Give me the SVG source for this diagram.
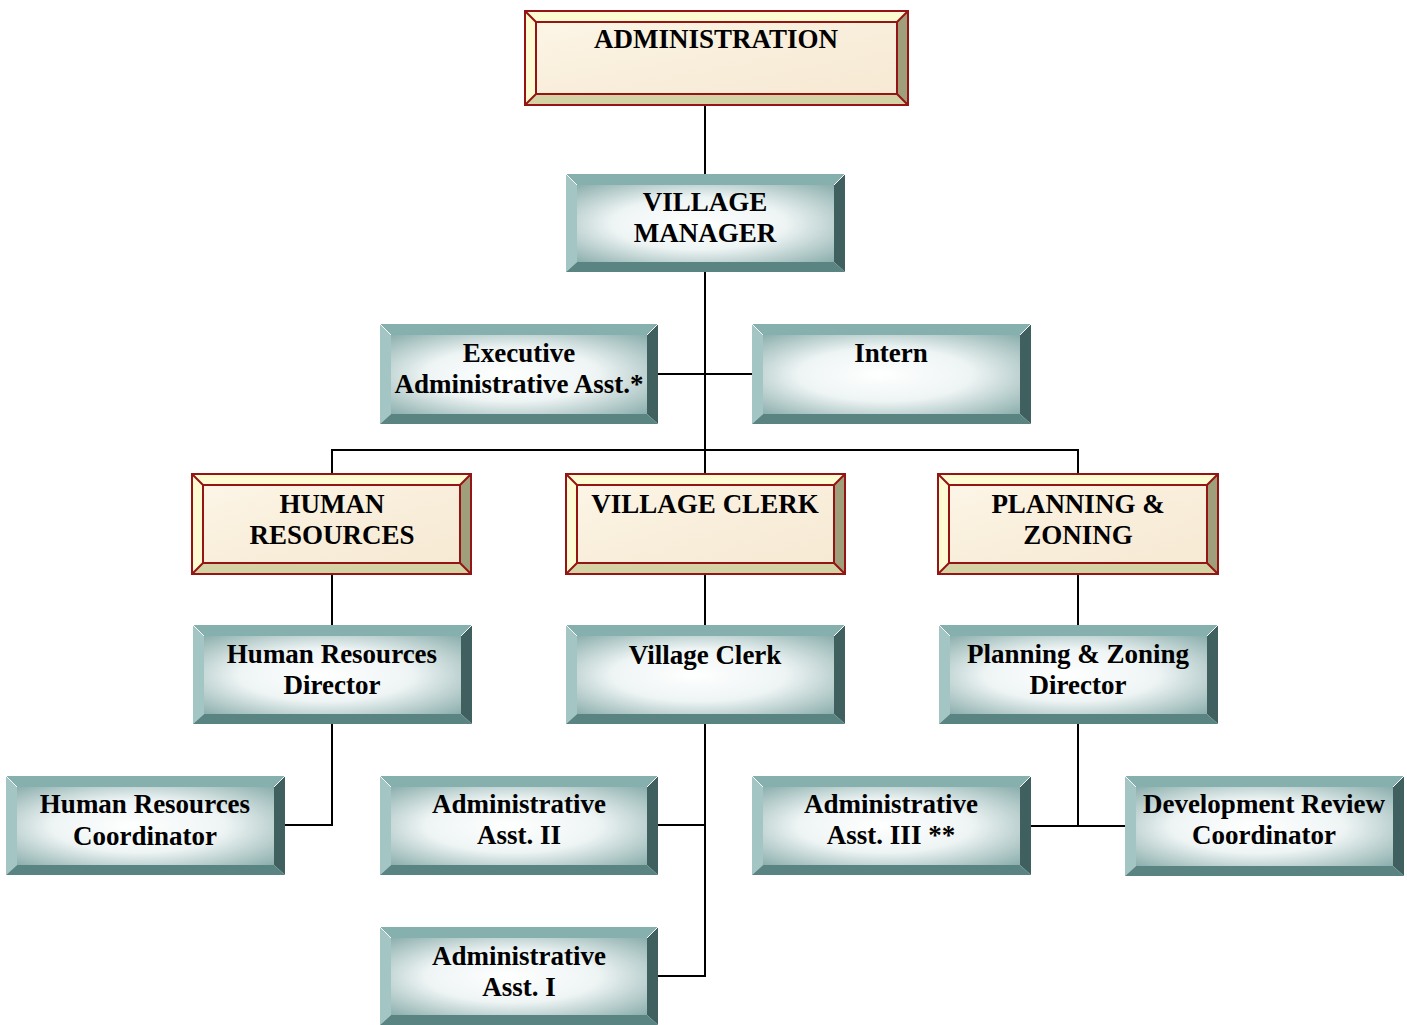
<svg xmlns="http://www.w3.org/2000/svg" width="1407" height="1025" viewBox="0 0 1407 1025">
<defs>
<radialGradient id="tg" cx="0.5" cy="0.5" r="0.75" fx="0.45" fy="0.5">
<stop offset="0" stop-color="#ffffff"/>
<stop offset="0.45" stop-color="#eef4f4"/>
<stop offset="1" stop-color="#7fa6a4"/>
</radialGradient>
<linearGradient id="pg" x1="0" y1="0" x2="1" y2="1">
<stop offset="0" stop-color="#fcf5e6"/>
<stop offset="0.5" stop-color="#f9eedb"/>
<stop offset="1" stop-color="#f6ead4"/>
</linearGradient>
</defs>
<style>
.tt{fill:#86b0ae}.tl{fill:#a3c6c4}.tr{fill:#3f605e}.tb{fill:#5a8482}.ti{fill:url(#tg)}
.rt{fill:#fdfbd2}.rl{fill:#fdfbd2}.rr{fill:#a09f7c}.rb{fill:#d3d3a6}.ri{fill:url(#pg)}
.rs{fill:none;stroke:#951515;stroke-width:2}
.ws{stroke:#ffffff;stroke-width:1;fill:none}
text{font-family:"Liberation Serif","Times New Roman",serif;font-weight:bold;font-size:27px;text-anchor:middle;fill:#000}
.c line{stroke:#000;stroke-width:2}
</style>
<g class="c" id="connectors">
<line x1="705" y1="106" x2="705" y2="174"/>
<line x1="705" y1="272" x2="705" y2="473"/>
<line x1="658" y1="374" x2="752" y2="374"/>
<line x1="331" y1="450" x2="1079" y2="450"/>
<line x1="332" y1="449" x2="332" y2="473"/>
<line x1="1078" y1="449" x2="1078" y2="473"/>
<line x1="332" y1="575" x2="332" y2="625"/>
<line x1="705" y1="575" x2="705" y2="625"/>
<line x1="1078" y1="575" x2="1078" y2="625"/>
<line x1="332" y1="724" x2="332" y2="826"/>
<line x1="285" y1="825" x2="333" y2="825"/>
<line x1="705" y1="724" x2="705" y2="977"/>
<line x1="658" y1="825" x2="705" y2="825"/>
<line x1="658" y1="976" x2="706" y2="976"/>
<line x1="1078" y1="724" x2="1078" y2="826"/>
<line x1="1031" y1="826" x2="1125" y2="826"/>
</g>
<g id="administration">
<polygon class="rt" points="524,10 909,10 897,22 536,22"/>
<polygon class="rl" points="524,10 536,22 536,94 524,106"/>
<polygon class="rr" points="909,10 909,106 897,94 897,22"/>
<polygon class="rb" points="524,106 536,94 897,94 909,106"/>
<rect class="ri" x="536" y="22" width="361" height="72"/>
<rect class="rs" x="525" y="11" width="383" height="94"/>
<rect class="rs" x="536" y="22" width="361" height="72"/>
<path class="rs" d="M525,11 L536,22 M908,11 L897,22 M525,105 L536,94 M908,105 L897,94"/>
<text x="716" y="48">ADMINISTRATION</text>
</g>
<g id="village-manager">
<polygon class="tt" points="566,174 845,174 834,185 577,185"/>
<polygon class="tl" points="566,174 577,185 577,262 566,272"/>
<polygon class="tr" points="845,174 845,272 834,262 834,185"/>
<polygon class="tb" points="566,272 577,262 834,262 845,272"/>
<rect class="ti" x="577" y="185" width="257" height="77"/>
<path class="ws" d="M566,174 L577,185 M845,174 L834,185"/>
<text x="705" y="211">VILLAGE</text>
<text x="705" y="242">MANAGER</text>
</g>
<g id="exec-admin-asst">
<polygon class="tt" points="380,324 658,324 647,335 391,335"/>
<polygon class="tl" points="380,324 391,335 391,414 380,424"/>
<polygon class="tr" points="658,324 658,424 647,414 647,335"/>
<polygon class="tb" points="380,424 391,414 647,414 658,424"/>
<rect class="ti" x="391" y="335" width="256" height="79"/>
<path class="ws" d="M380,324 L391,335 M658,324 L647,335"/>
<text x="519" y="362">Executive</text>
<text x="519" y="393">Administrative Asst.*</text>
</g>
<g id="intern">
<polygon class="tt" points="752,324 1031,324 1020,335 763,335"/>
<polygon class="tl" points="752,324 763,335 763,414 752,424"/>
<polygon class="tr" points="1031,324 1031,424 1020,414 1020,335"/>
<polygon class="tb" points="752,424 763,414 1020,414 1031,424"/>
<rect class="ti" x="763" y="335" width="257" height="79"/>
<path class="ws" d="M752,324 L763,335 M1031,324 L1020,335"/>
<text x="891" y="362">Intern</text>
</g>
<g id="human-resources">
<polygon class="rt" points="191,473 472,473 460,485 203,485"/>
<polygon class="rl" points="191,473 203,485 203,563 191,575"/>
<polygon class="rr" points="472,473 472,575 460,563 460,485"/>
<polygon class="rb" points="191,575 203,563 460,563 472,575"/>
<rect class="ri" x="203" y="485" width="257" height="78"/>
<rect class="rs" x="192" y="474" width="279" height="100"/>
<rect class="rs" x="203" y="485" width="257" height="78"/>
<path class="rs" d="M192,474 L203,485 M471,474 L460,485 M192,574 L203,563 M471,574 L460,563"/>
<text x="332" y="513">HUMAN</text>
<text x="332" y="544">RESOURCES</text>
</g>
<g id="village-clerk-dept">
<polygon class="rt" points="565,473 846,473 834,485 577,485"/>
<polygon class="rl" points="565,473 577,485 577,563 565,575"/>
<polygon class="rr" points="846,473 846,575 834,563 834,485"/>
<polygon class="rb" points="565,575 577,563 834,563 846,575"/>
<rect class="ri" x="577" y="485" width="257" height="78"/>
<rect class="rs" x="566" y="474" width="279" height="100"/>
<rect class="rs" x="577" y="485" width="257" height="78"/>
<path class="rs" d="M566,474 L577,485 M845,474 L834,485 M566,574 L577,563 M845,574 L834,563"/>
<text x="705" y="513">VILLAGE CLERK</text>
</g>
<g id="planning-zoning">
<polygon class="rt" points="937,473 1219,473 1207,485 949,485"/>
<polygon class="rl" points="937,473 949,485 949,563 937,575"/>
<polygon class="rr" points="1219,473 1219,575 1207,563 1207,485"/>
<polygon class="rb" points="937,575 949,563 1207,563 1219,575"/>
<rect class="ri" x="949" y="485" width="258" height="78"/>
<rect class="rs" x="938" y="474" width="280" height="100"/>
<rect class="rs" x="949" y="485" width="258" height="78"/>
<path class="rs" d="M938,474 L949,485 M1218,474 L1207,485 M938,574 L949,563 M1218,574 L1207,563"/>
<text x="1078" y="513">PLANNING &amp;</text>
<text x="1078" y="544">ZONING</text>
</g>
<g id="hr-director">
<polygon class="tt" points="193,625 472,625 461,636 204,636"/>
<polygon class="tl" points="193,625 204,636 204,714 193,724"/>
<polygon class="tr" points="472,625 472,724 461,714 461,636"/>
<polygon class="tb" points="193,724 204,714 461,714 472,724"/>
<rect class="ti" x="204" y="636" width="257" height="78"/>
<path class="ws" d="M193,625 L204,636 M472,625 L461,636"/>
<text x="332" y="663">Human Resources</text>
<text x="332" y="694">Director</text>
</g>
<g id="village-clerk">
<polygon class="tt" points="566,625 845,625 834,636 577,636"/>
<polygon class="tl" points="566,625 577,636 577,714 566,724"/>
<polygon class="tr" points="845,625 845,724 834,714 834,636"/>
<polygon class="tb" points="566,724 577,714 834,714 845,724"/>
<rect class="ti" x="577" y="636" width="257" height="78"/>
<path class="ws" d="M566,625 L577,636 M845,625 L834,636"/>
<text x="705" y="664">Village Clerk</text>
</g>
<g id="pz-director">
<polygon class="tt" points="939,625 1218,625 1207,636 950,636"/>
<polygon class="tl" points="939,625 950,636 950,714 939,724"/>
<polygon class="tr" points="1218,625 1218,724 1207,714 1207,636"/>
<polygon class="tb" points="939,724 950,714 1207,714 1218,724"/>
<rect class="ti" x="950" y="636" width="257" height="78"/>
<path class="ws" d="M939,625 L950,636 M1218,625 L1207,636"/>
<text x="1078" y="663">Planning &amp; Zoning</text>
<text x="1078" y="694">Director</text>
</g>
<g id="hr-coordinator">
<polygon class="tt" points="6,776 285,776 274,787 17,787"/>
<polygon class="tl" points="6,776 17,787 17,865 6,875"/>
<polygon class="tr" points="285,776 285,875 274,865 274,787"/>
<polygon class="tb" points="6,875 17,865 274,865 285,875"/>
<rect class="ti" x="17" y="787" width="257" height="78"/>
<path class="ws" d="M6,776 L17,787 M285,776 L274,787"/>
<text x="145" y="813">Human Resources</text>
<text x="145" y="845">Coordinator</text>
</g>
<g id="admin-asst-ii">
<polygon class="tt" points="380,776 658,776 647,787 391,787"/>
<polygon class="tl" points="380,776 391,787 391,865 380,875"/>
<polygon class="tr" points="658,776 658,875 647,865 647,787"/>
<polygon class="tb" points="380,875 391,865 647,865 658,875"/>
<rect class="ti" x="391" y="787" width="256" height="78"/>
<path class="ws" d="M380,776 L391,787 M658,776 L647,787"/>
<text x="519" y="813">Administrative</text>
<text x="519" y="844">Asst. II</text>
</g>
<g id="admin-asst-iii">
<polygon class="tt" points="752,776 1031,776 1020,787 763,787"/>
<polygon class="tl" points="752,776 763,787 763,865 752,875"/>
<polygon class="tr" points="1031,776 1031,875 1020,865 1020,787"/>
<polygon class="tb" points="752,875 763,865 1020,865 1031,875"/>
<rect class="ti" x="763" y="787" width="257" height="78"/>
<path class="ws" d="M752,776 L763,787 M1031,776 L1020,787"/>
<text x="891" y="813">Administrative</text>
<text x="891" y="844">Asst. III **</text>
</g>
<g id="dev-review-coordinator">
<polygon class="tt" points="1125,776 1404,776 1393,787 1136,787"/>
<polygon class="tl" points="1125,776 1136,787 1136,866 1125,876"/>
<polygon class="tr" points="1404,776 1404,876 1393,866 1393,787"/>
<polygon class="tb" points="1125,876 1136,866 1393,866 1404,876"/>
<rect class="ti" x="1136" y="787" width="257" height="79"/>
<path class="ws" d="M1125,776 L1136,787 M1404,776 L1393,787"/>
<text x="1264" y="813">Development Review</text>
<text x="1264" y="844">Coordinator</text>
</g>
<g id="admin-asst-i">
<polygon class="tt" points="380,927 658,927 647,938 391,938"/>
<polygon class="tl" points="380,927 391,938 391,1015 380,1025"/>
<polygon class="tr" points="658,927 658,1025 647,1015 647,938"/>
<polygon class="tb" points="380,1025 391,1015 647,1015 658,1025"/>
<rect class="ti" x="391" y="938" width="256" height="77"/>
<path class="ws" d="M380,927 L391,938 M658,927 L647,938"/>
<text x="519" y="965">Administrative</text>
<text x="519" y="996">Asst. I</text>
</g>
</svg>
